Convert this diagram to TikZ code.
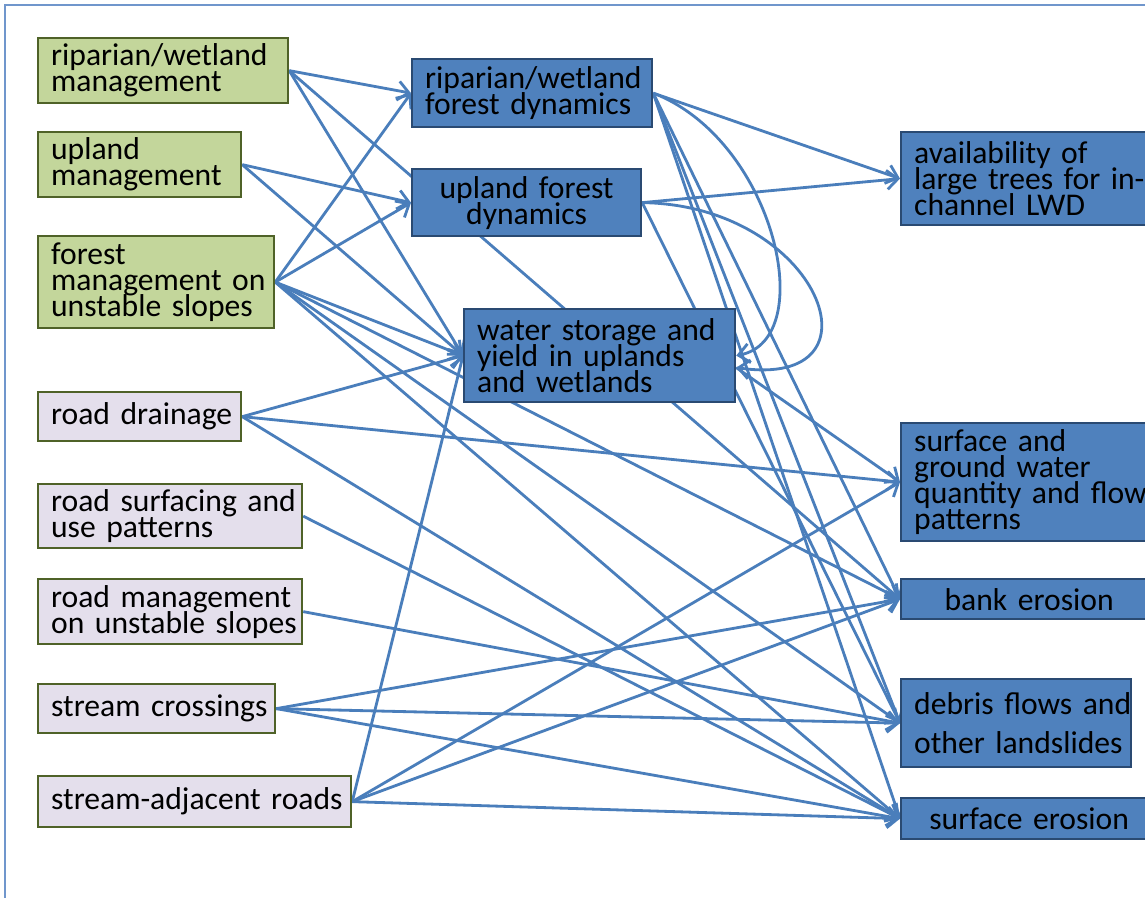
\documentclass[tikz,border=0pt]{standalone}
\usepackage{fontspec}
\setmainfont{Carlito}
\usetikzlibrary{arrows.meta,backgrounds}

\definecolor{grnfill}{HTML}{C3D69B}
\definecolor{grnline}{HTML}{4F6228}
\definecolor{lavfill}{HTML}{E4DFEC}
\definecolor{blufill}{HTML}{4F81BD}
\definecolor{bluline}{HTML}{2A4A72}
\definecolor{linkblue}{HTML}{4A7EBB}
\definecolor{framecol}{HTML}{7096CC}

\begin{document}
\begin{tikzpicture}[x=0.02cm,y=-0.02cm,
  box/.style={draw, line width=1.3pt, anchor=north west, inner xsep=0.26cm, inner ysep=0pt,
    align=left, font={\fontsize{18}{14.75}\selectfont\lineskiplimit=-20pt\hyphenpenalty=10000}},
  grnbox/.style={box, fill=grnfill, draw=grnline},
  lavbox/.style={box, fill=lavfill, draw=grnline},
  blubox/.style={box, fill=blufill, draw=bluline},
  link/.style={draw=linkblue, line width=1.6pt, -{Straight Barb[length=2.2mm,width=3.8mm]}}]
\useasboundingbox (0,0) rectangle (1145,898);
\draw[framecol, line width=0.8pt] (5,898) -- (5,5) -- (1145,5);

% management actions
\node[grnbox, text width=4.48cm, minimum height=1.3cm] (rwm) at (37,37) {riparian/wetland\\management};
\node[grnbox, text width=3.54cm, minimum height=1.3cm] (upm) at (37,131) {upland\\management};
\node[grnbox, text width=4.2cm, minimum height=1.84cm] (fms) at (37,235) {forest\\management~on\\unstable~slopes};
\node[lavbox, text width=3.54cm, minimum height=0.98cm] (rdr) at (37,391) {road~drainage};
\node[lavbox, text width=4.76cm, minimum height=1.28cm] (rsu) at (37,483) {road~surfacing~and\\use~patterns};
\node[lavbox, text width=4.76cm, minimum height=1.3cm] (rmu) at (37,578) {road~management\\on~unstable~slopes};
\node[lavbox, text width=4.22cm, minimum height=0.98cm] (scr) at (37,683) {stream~crossings};
\node[lavbox, text width=5.74cm, minimum height=1.02cm] (sar) at (37,775) {\mbox{stream-adjacent}~roads};

% forest and water processes
\node[blubox, text width=4.28cm, minimum height=1.36cm] (rwf) at (411,58) {riparian/wetland\\forest~dynamics};
\node[blubox, text width=4.06cm, minimum height=1.34cm, align=center] (ufd) at (411,168) {upland~forest\\dynamics};
\node[blubox, text width=4.9cm, minimum height=1.86cm] (wsy) at (463,308) {water~storage~and\\yield~in~uplands\\and~wetlands};

% effects on the channel
\node[blubox, text width=5.2cm, minimum height=1.86cm] (lwd) at (900,131) {availability~of\\large~trees~for~in-\\channel~LWD};
\node[blubox, text width=5.2cm, minimum height=2.36cm] (sgw) at (900,422) {surface~and\\ground~water\\quantity~and~flow\\patterns};
\node[blubox, text width=4.6cm, minimum height=0.8cm, align=center] (bank) at (900,578) {bank~erosion};
\node[blubox, text width=4.08cm, minimum height=1.76cm,
  font={\fontsize{18}{22}\selectfont\hyphenpenalty=10000}] (debris) at (900,678) {debris~flows~and\\other~landslides};
\node[blubox, text width=4.6cm, minimum height=0.82cm, align=center] (serosion) at (900,797) {surface~erosion};

% links
\begin{pgfonlayer}{background}
\foreach \s/\t in {rwm/rwf, rwm/wsy, rwm/bank, upm/ufd, upm/wsy,
    fms/rwf, fms/ufd, fms/wsy, fms/bank, fms/debris, fms/serosion,
    rdr/wsy, rdr/sgw, rdr/serosion, rsu/serosion, rmu/debris,
    scr/bank, scr/debris, scr/serosion, sar/wsy, sar/sgw, sar/bank, sar/serosion,
    rwf/lwd, rwf/bank, rwf/debris, rwf/serosion, ufd/lwd, ufd/debris}
  \draw[link] (\s.east) -- (\t.west);
\draw[link] (rwf.east) .. controls (775,140) and (820,340) .. (wsy.east);
\draw[link] (ufd.east) .. controls (820,205) and (890,390) .. (wsy.-5);
\draw[link] (wsy.-5) -- (sgw.west);
\end{pgfonlayer}
\end{tikzpicture}
\end{document}
